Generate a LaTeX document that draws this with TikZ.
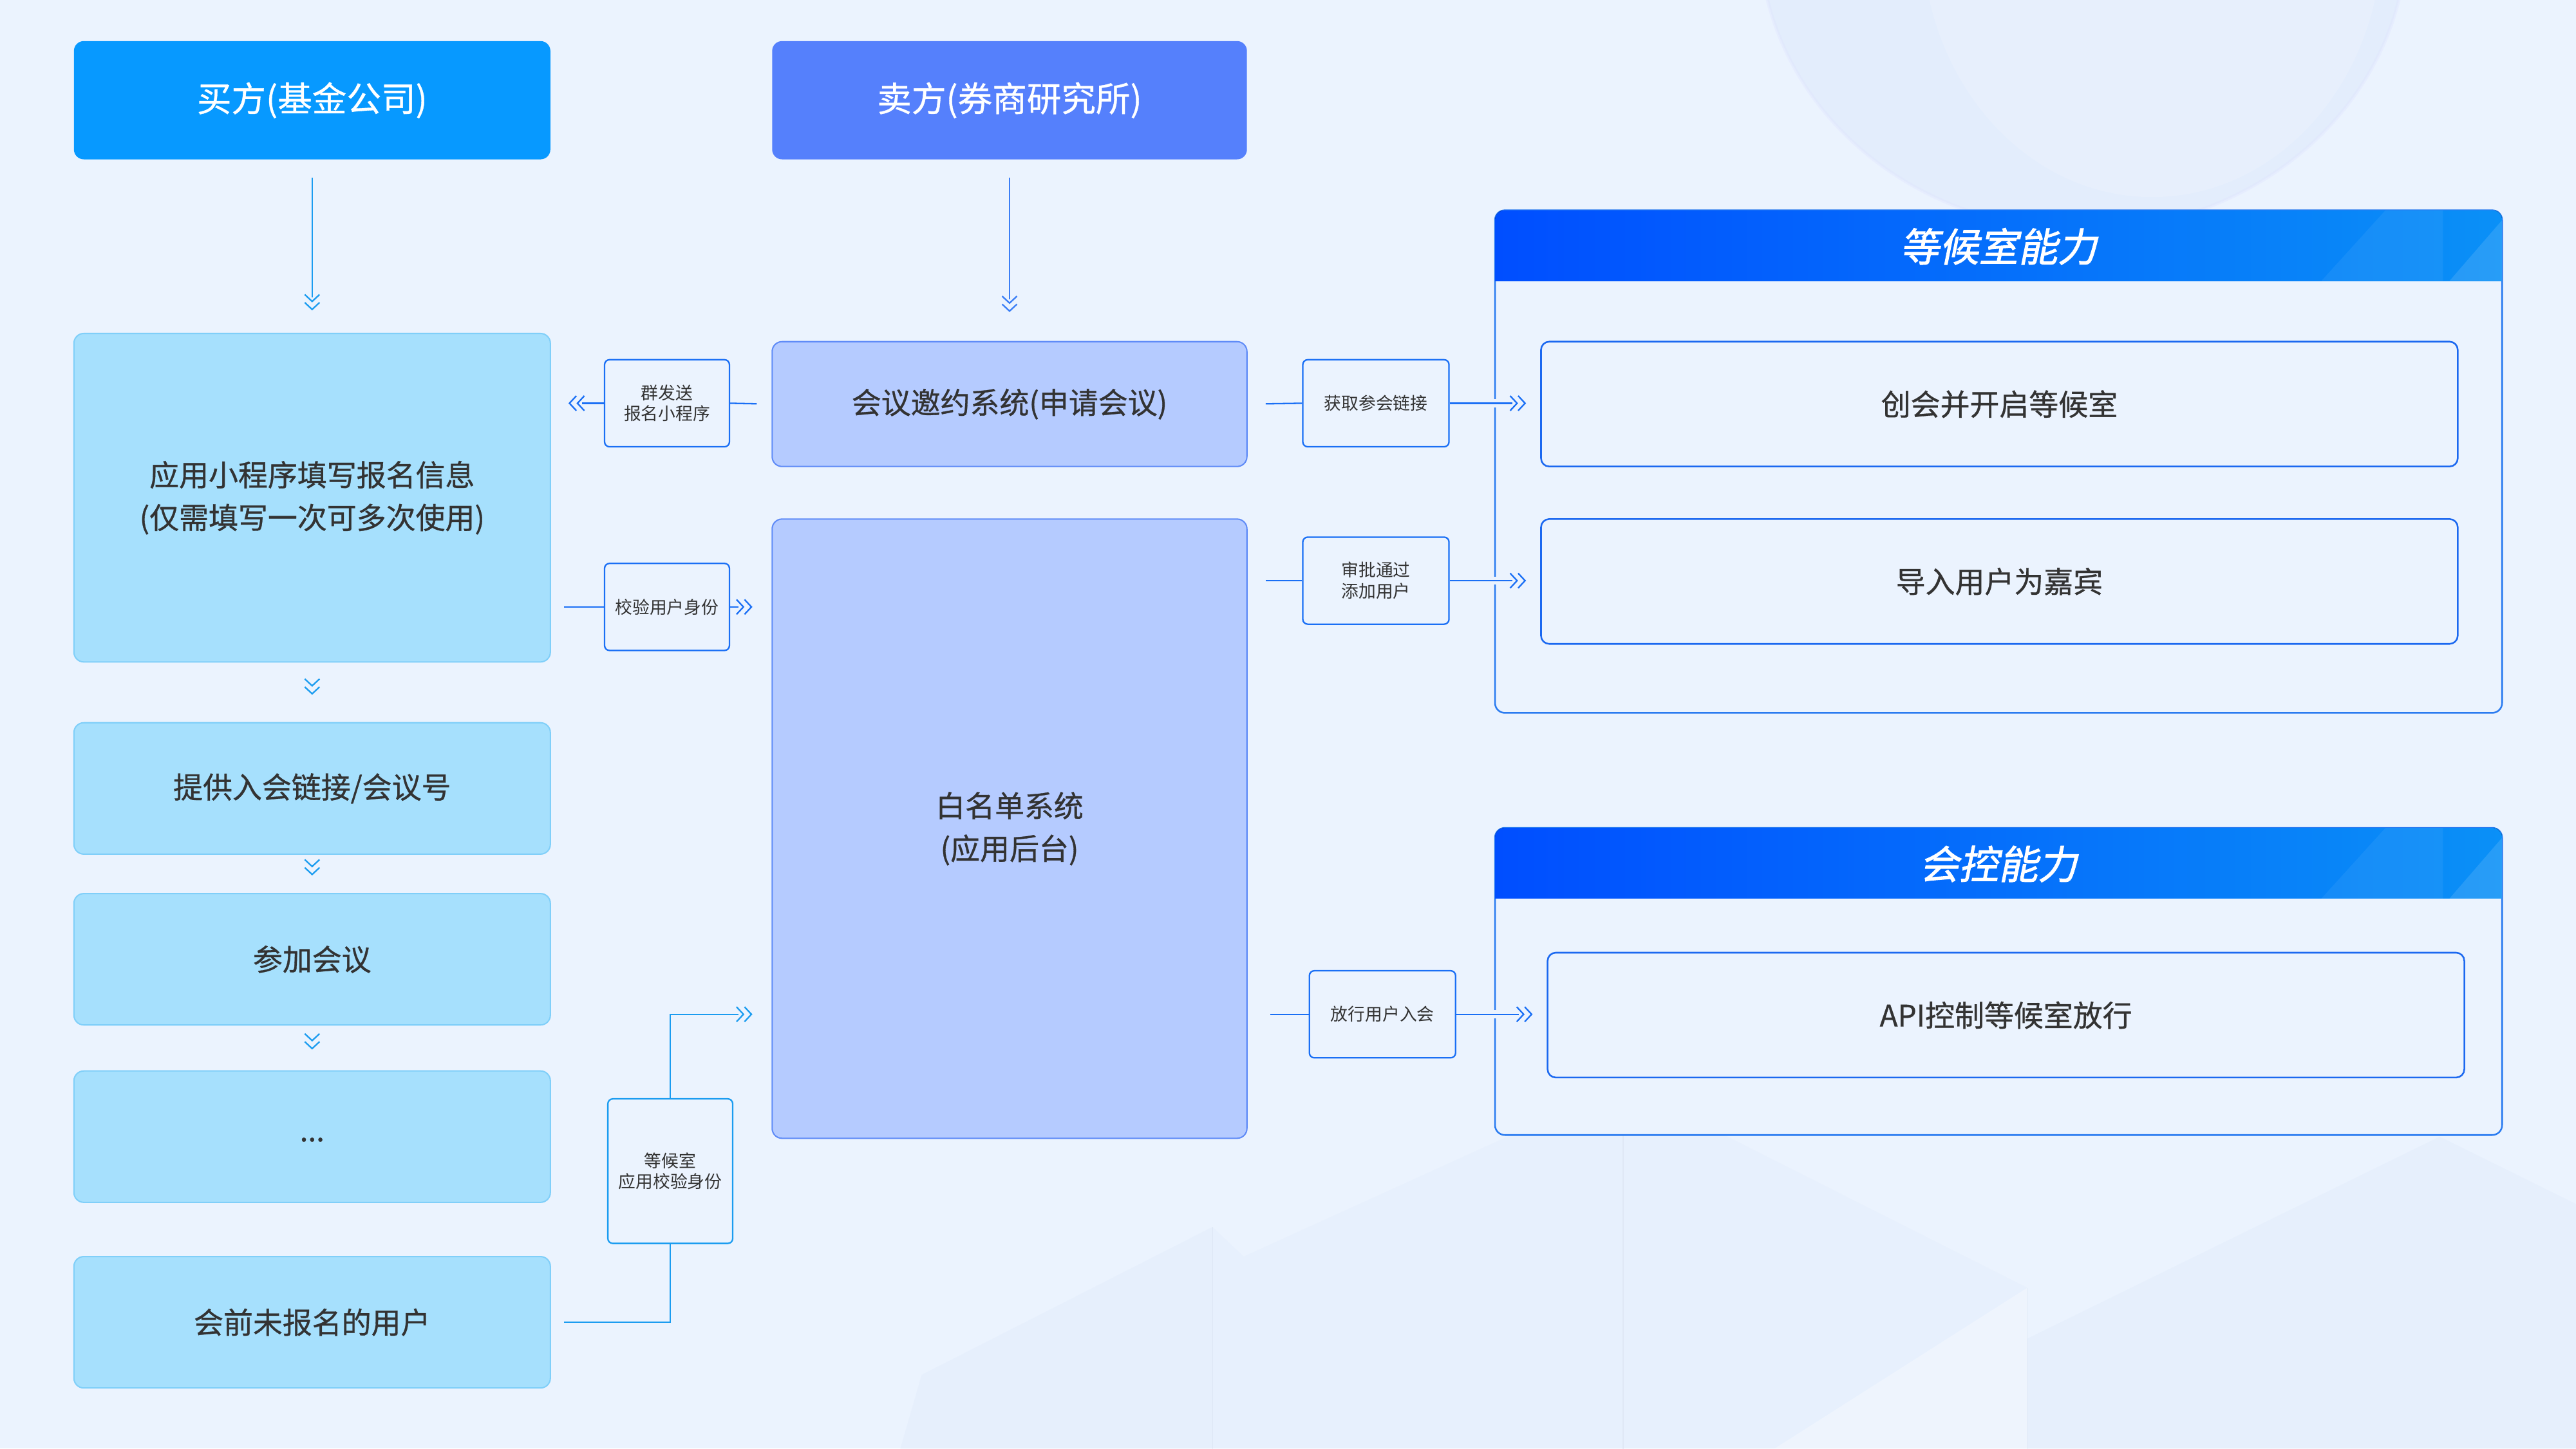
\documentclass[tikz,border=0pt]{standalone}
\usepackage{fontspec}
\setmainfont{Noto Sans CJK SC}
\newfontfamily\medf{Noto Sans CJK SC}[FakeBold=0.7]
\newfontfamily\titlef{Noto Sans CJK SC}[FakeSlant=0.2,FakeBold=1.6]
\usetikzlibrary{arrows.meta,calc}
\definecolor{bgc}{HTML}{EBF3FE}
\definecolor{buyc}{HTML}{0799FF}
\definecolor{sellc}{HTML}{5580FC}
\definecolor{lbfill}{HTML}{A6E0FD}
\definecolor{lbdraw}{HTML}{80CFF9}
\definecolor{mbfill}{HTML}{B5CBFF}
\definecolor{mbdraw}{HTML}{5F8BF7}
\definecolor{cyanl}{HTML}{1B9CF0}
\definecolor{bluel}{HTML}{1A6FF5}
\definecolor{sellarrow}{HTML}{3A7EF6}
\definecolor{txt}{HTML}{333333}
\definecolor{hl}{HTML}{004EFF}
\definecolor{hr}{HTML}{0A90F7}
\definecolor{panelb}{HTML}{2A7BF0}
\definecolor{innerb}{HTML}{1B68F0}
\definecolor{bubblec}{HTML}{DCE9FC}
\definecolor{mount}{HTML}{E2ECFC}
\tikzset{
  head/.style={rounded corners=6pt, minimum width=290pt, minimum height=72pt, inner sep=0pt,
    text=white, font=\medf\fontsize{21}{25}\selectfont},
  lbox/.style={rounded corners=6pt, fill=lbfill, draw=lbdraw, line width=0.8pt, minimum width=290pt,
    inner sep=0pt, text=txt, align=center, font=\medf\fontsize{18}{26}\selectfont},
  mbox/.style={rounded corners=6pt, fill=mbfill, draw=mbdraw, line width=0.8pt, minimum width=289pt,
    inner sep=0pt, text=txt, align=center, font=\medf\fontsize{18}{26}\selectfont},
  tagbox/.style={rounded corners=3pt, fill=bgc, draw=bluel, line width=0.9pt, minimum width=76pt,
    minimum height=53pt, inner sep=0pt, text=txt, align=center, font=\fontsize{10.5}{12.8}\selectfont},
  panel/.style={rounded corners=6pt, fill=bgc, draw=panelb, line width=1pt, minimum width=613pt,
    inner sep=0pt, outer sep=0pt},
  ttl/.style={text=white, font=\titlef\fontsize{24}{28}\selectfont, inner sep=0pt},
  ibox/.style={rounded corners=5pt, draw=innerb, line width=1pt, minimum width=558pt, minimum height=76pt,
    inner sep=0pt, text=txt, font=\medf\fontsize{18}{22}\selectfont},
  cline/.style={draw=cyanl, line width=0.9pt},
  bline/.style={draw=bluel, line width=0.9pt},
  sline/.style={draw=sellarrow, line width=0.9pt},
  chev/.style={-{Straight Barb[length=4.2pt,width=9pt,sep=-0.4pt] Straight Barb[length=4.2pt,width=9pt,sep=2.6pt]}},
  onlytip/.style={dash pattern=on 0pt off 300pt},
  gapcross/.style={preaction={draw=bgc, line width=5pt, shorten <=18pt}}
}
% [#1 extra options of the line only], #2 line style, #3 path, #4 end gap of the line, #5 end gap of the chevrons
\newcommand\chevconn[5][]{%
  \draw[#2, #1, shorten >=#4] #3;
  \draw[#2, chev, onlytip, shorten >=#5] #3;}
\begin{document}
\begin{tikzpicture}[x=1pt,y=-1pt]
\fill[bgc] (0,0) rectangle (1568,881.8);
\useasboundingbox (0,0) rectangle (1568,881.8);
% background decoration
\begin{scope}
\clip (0,0) rectangle (1568,881.8);
\fill[bubblec, opacity=0.5] (1268,-40) ellipse [x radius=197pt, y radius=180pt];
\draw[bubblec!80!blue!40, opacity=0.35, line width=2pt] (1268,-40) ellipse [x radius=197pt, y radius=180pt];
\fill[white, opacity=0.15] (1310,-40) ellipse [x radius=140pt, y radius=160pt];
\fill[mount, opacity=0.5] (548,882) -- (561,837) -- (738,747) -- (738,882) -- cycle;
\fill[mount, opacity=0.4] (738,882) -- (738,747) -- (757,765) -- (988,660) -- (988,882) -- cycle;
\fill[mount, opacity=0.35] (988,882) -- (988,660) -- (1234,784) -- (1234,882) -- cycle;
\fill[mount, opacity=0.55] (1234,882) -- (1234,815) -- (1485,692) -- (1568,733) -- (1568,882) -- cycle;
\fill[white, opacity=0.3] (1080,882) -- (1234,784) -- (1234,882) -- cycle;
\draw[mount!90!gray, line width=0.5pt, opacity=0.5] (738,747) -- (738,882) (988,660) -- (988,882) (1234,784) -- (1234,882);
\end{scope}
% headers
\node[head, fill=buyc] (buy) at (190,61) {买方(基金公司)};
\node[head, fill=sellc, minimum width=289pt] (sell) at (614.5,61) {卖方(券商研究所)};
% left column
\node[lbox, minimum height=200pt] (b1) at (190,303) {应用小程序填写报名信息\\(仅需填写一次可多次使用)};
\node[lbox, minimum height=80pt] (b2) at (190,480) {提供入会链接/会议号};
\node[lbox, minimum height=80pt] (b3) at (190,584) {参加会议};
\node[lbox, minimum height=80pt] (b4) at (190,692) {\raisebox{-6pt}{...}};
\node[lbox, minimum height=80pt] (b5) at (190,805) {会前未报名的用户};
% middle column
\node[mbox, minimum height=76pt] (meet) at (614.5,246) {会议邀约系统(申请会议)};
\node[mbox, minimum height=377pt] (wl) at (614.5,504.5) {白名单系统\\(应用后台)};
% tag boxes
\node[tagbox] (qfs) at (406,245.5) {群发送\\报名小程序};
\node[tagbox] (jy) at (406,369.5) {校验用户身份};
\node[tagbox, draw=cyanl, minimum height=88pt] (dhs) at (408,713) {等候室\\应用校验身份};
\node[tagbox, minimum width=89pt] (hq) at (837.5,245.5) {获取参会链接};
\node[tagbox, minimum width=89pt] (sp) at (837.5,353.5) {审批通过\\添加用户};
\node[tagbox, minimum width=89pt] (fx) at (841.5,617.5) {放行用户入会};
% panels
\node[panel, minimum height=306pt] (p1) at (1216.5,281) {};
\begin{scope}
\clip[rounded corners=6pt] (p1.north west) rectangle (p1.south east);
\fill[left color=hl, right color=hr] (p1.north west) rectangle ([yshift=-43pt]p1.north east);
\fill[white, opacity=0.06] (1413,171) -- (1452,128) -- (1487,128) -- (1487,171) -- cycle;
\fill[white, opacity=0.12] (1491,171) -- (1523,134) -- (1523,171) -- cycle;
\end{scope}
\node[ttl] (t1) at ($(p1.north)+(0,22)$) {等候室能力};
\node[ibox] (i1) at (1217,246) {创会并开启等候室};
\node[ibox] (i2) at (1217,354) {导入用户为嘉宾};
\node[panel, minimum height=187pt] (p2) at (1216.5,597.5) {};
\begin{scope}
\clip[rounded corners=6pt] (p2.north west) rectangle (p2.south east);
\fill[left color=hl, right color=hr] (p2.north west) rectangle ([yshift=-43pt]p2.north east);
\fill[white, opacity=0.06] (1413,547) -- (1452,504) -- (1487,504) -- (1487,547) -- cycle;
\fill[white, opacity=0.12] (1491,547) -- (1523,510) -- (1523,547) -- cycle;
\end{scope}
\node[ttl] (t2) at ($(p2.north)+(0,22)$) {会控能力};
\node[ibox] (i3) at (1221,618) {API控制等候室放行};
% connectors left
\chevconn{cline, shorten <=11pt}{(buy.south) -- (b1.north)}{21.5pt}{11pt}
\chevconn{sline, shorten <=11pt}{(sell.south) -- (meet.north)}{25.5pt}{15pt}
\draw[cline, chev, onlytip, shorten >=14pt] (b1.south) -- (b2.north);
\draw[cline, chev, onlytip, shorten >=8pt] (b2.south) -- (b3.north);
\draw[cline, chev, onlytip, shorten >=10pt] (b3.south) -- (b4.north);
\draw[bline, shorten <=9pt] (meet.west) -- (qfs.east);
\chevconn{bline}{(qfs.west) -- (qfs.west -| b1.east)}{19pt}{8pt}
\draw[bline, shorten <=8pt] (b1.east |- jy.west) -- (jy.west);
\chevconn{bline}{(jy.east) -- (jy.east -| wl.west)}{20pt}{9pt}
\draw[cline, shorten <=8pt] (b5.east) -| (dhs.south);
\chevconn{cline}{(dhs.north) |- (wl.west |- fx.west)}{20pt}{9pt}
% connectors right
\draw[bline, shorten <=11pt] (meet.east) -- (hq.west);
\chevconn[gapcross]{bline}{(hq.east) -- (hq.east -| i1.west)}{17pt}{6pt}
\draw[bline, shorten <=11pt] (wl.east |- sp.west) -- (sp.west);
\chevconn[gapcross]{bline}{(sp.east) -- (sp.east -| i2.west)}{17pt}{6pt}
\draw[bline, shorten <=14pt] (wl.east |- fx.west) -- (fx.west);
\chevconn[gapcross]{bline}{(fx.east) -- (fx.east -| i3.west)}{17pt}{6pt}
\end{tikzpicture}
\end{document}
